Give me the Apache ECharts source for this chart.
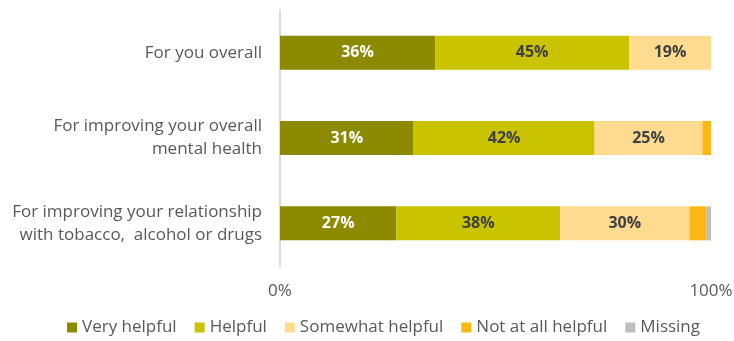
<!DOCTYPE html>
<html>
<head>
<meta charset="utf-8">
<script src="https://cdn.jsdelivr.net/npm/echarts@6/dist/echarts.min.js"></script>
<style>html,body{margin:0;padding:0;background:#fff}#chart{width:734px;height:341px}</style>
</head>
<body>
<div id="chart"></div>
<script>
// Stacked percentage bars: how helpful the service was, by aspect
const categories = [
  'For you overall',
  'For improving your overall\nmental health',
  'For improving your relationship\nwith tobacco,  alcohol or drugs'
];
const seriesNames = ['Very helpful', 'Helpful', 'Somewhat helpful', 'Not at all helpful', 'Missing'];
const veryHelpful = [36, 31, 27];
const helpful = [45, 42, 38];
const somewhatHelpful = [19, 25, 30];
const notAtAllHelpful = [0, 2, 4];
const missing = [0, 0, 1];
const colors = ['#8c8a00', '#c9c300', '#fedb8e', '#fdb716', '#bfbfbf'];
const labelColors = ['#ffffff', '#404040', '#404040', '#404040', '#404040'];

const FONT = '"Open Sans", Lato, sans-serif';
const values = [veryHelpful, helpful, somewhatHelpful, notAtAllHelpful, missing];

const chart = echarts.init(document.getElementById('chart'));
chart.setOption({
  animation: false,
  textStyle: { fontFamily: FONT },
  grid: { left: 280, right: 23, top: 10, bottom: 75, containLabel: false, outerBoundsMode: 'none' },
  legend: {
    top: 314,
    left: 62,
    itemWidth: 10,
    itemHeight: 10,
    itemGap: 18,
    icon: 'rect',
    textStyle: { fontSize: 17, color: '#595959', fontFamily: FONT },
    data: seriesNames
  },
  xAxis: {
    type: 'value',
    min: 0,
    max: 100,
    interval: 100,
    axisLine: { show: false },
    axisTick: { show: false },
    splitLine: { show: false },
    axisLabel: { formatter: '{value}%', fontSize: 17, color: '#595959', margin: 17, fontFamily: FONT }
  },
  yAxis: {
    type: 'category',
    inverse: true,
    data: categories,
    axisLine: { show: true, lineStyle: { color: '#d9d9d9', width: 2 } },
    axisTick: { show: false },
    axisLabel: { fontSize: 17, color: '#595959', margin: 18, lineHeight: 23, align: 'right', fontFamily: FONT }
  },
  series: seriesNames.map((name, i) => ({
    name,
    type: 'bar',
    stack: 'total',
    barWidth: 34,
    itemStyle: { color: colors[i] },
    label: {
      show: true,
      position: 'inside',
      fontSize: 16,
      fontWeight: 'bold',
      color: labelColors[i],
      fontFamily: FONT,
      formatter: p => (p.value >= 5 ? p.value + '%' : '')
    },
    data: values[i]
  }))
});
</script>
</body>
</html>
